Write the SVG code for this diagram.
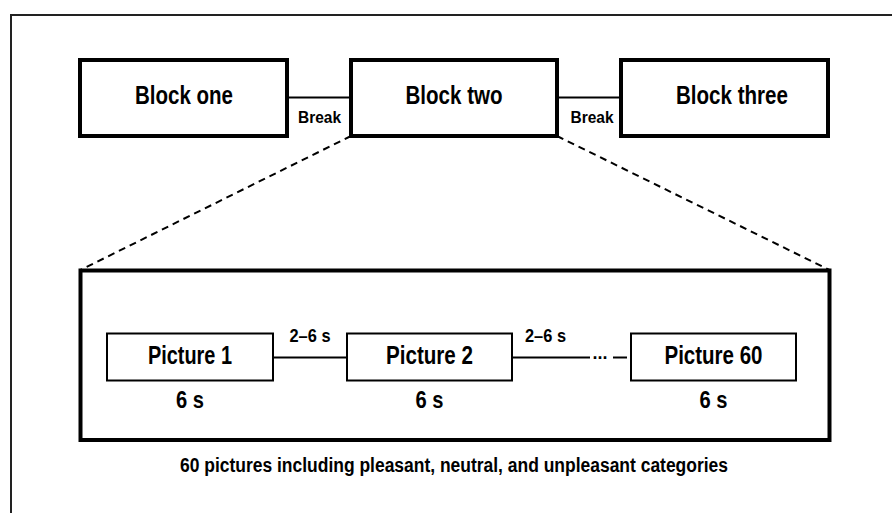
<svg xmlns="http://www.w3.org/2000/svg" width="892" height="513" viewBox="0 0 892 513">
  <style>
    text { font-family: "Liberation Sans Narrow", "Liberation Sans", Arial, sans-serif; font-weight: bold; fill: #000; text-anchor: middle; }
    .block { fill: #fff; stroke: #000; stroke-width: 4; }
    .frame { fill: none; stroke: #000; stroke-width: 4; }
    .pic { fill: #fff; stroke: #000; stroke-width: 2; }
    .link { stroke: #000; stroke-width: 2; fill: none; }
    .zoom { stroke: #000; stroke-width: 2; fill: none; stroke-dasharray: 7 5; }
    .t-block { font-size: 25px; }
    .t-break { font-size: 17px; }
    .t-pic { font-size: 25px; }
    .t-gap { font-size: 18px; }
    .t-dur { font-size: 24px; }
    .t-note { font-size: 20px; }
  </style>

  <rect width="892" height="513" fill="#fff"/>

  <!-- outer frame (open on the right and bottom) -->
  <path d="M11,513 V15 H892" fill="none" stroke="#222" stroke-width="2"/>

  <!-- expanded view of one block -->
  <g id="block-detail">
    <rect class="frame" x="80.5" y="270.5" width="749" height="169.5"/>
    <text class="t-note" x="454" y="472" textLength="548" lengthAdjust="spacingAndGlyphs">60 pictures including pleasant, neutral, and unpleasant categories</text>
  </g>

  <!-- connectors -->
  <g id="connectors">
    <line class="link" x1="287" y1="97.5" x2="351" y2="97.5"/>
    <line class="link" x1="557" y1="97.5" x2="621" y2="97.5"/>
    <line class="zoom" x1="351" y1="136" x2="80.5" y2="270"/>
    <line class="zoom" x1="557" y1="136" x2="829.5" y2="270"/>
    <line class="link" x1="273" y1="357.5" x2="347" y2="357.5"/>
    <line class="link" x1="512" y1="357.5" x2="590" y2="357.5"/>
    <line class="link" x1="613" y1="357.5" x2="627" y2="357.5"/>
    <text class="t-gap" x="600" y="359" textLength="15" lengthAdjust="spacingAndGlyphs">...</text>
    <text class="t-break" x="319.5" y="122.5" textLength="43" lengthAdjust="spacingAndGlyphs">Break</text>
    <text class="t-break" x="592" y="122.5" textLength="43" lengthAdjust="spacingAndGlyphs">Break</text>
    <text class="t-gap" x="310" y="342" textLength="41" lengthAdjust="spacingAndGlyphs">2–6 s</text>
    <text class="t-gap" x="545.5" y="342" textLength="41" lengthAdjust="spacingAndGlyphs">2–6 s</text>
  </g>

  <!-- blocks -->
  <g id="block-one">
    <rect class="block" x="80" y="60" width="207" height="76"/>
    <text class="t-block" x="184" y="103.5" textLength="98" lengthAdjust="spacingAndGlyphs">Block one</text>
  </g>
  <g id="block-two">
    <rect class="block" x="351" y="60" width="206" height="76"/>
    <text class="t-block" x="454" y="103.5" textLength="97" lengthAdjust="spacingAndGlyphs">Block two</text>
  </g>
  <g id="block-three">
    <rect class="block" x="621" y="60" width="207" height="76"/>
    <text class="t-block" x="732" y="103.5" textLength="112" lengthAdjust="spacingAndGlyphs">Block three</text>
  </g>

  <g id="picture-1">
    <rect class="pic" x="107" y="333.5" width="166" height="47"/>
    <text class="t-pic" x="190" y="364" textLength="84" lengthAdjust="spacingAndGlyphs">Picture 1</text>
    <text class="t-dur" x="190" y="408" textLength="28" lengthAdjust="spacingAndGlyphs">6 s</text>
  </g>
  <g id="picture-2">
    <rect class="pic" x="347" y="333.5" width="165" height="47"/>
    <text class="t-pic" x="429.5" y="364" textLength="87" lengthAdjust="spacingAndGlyphs">Picture 2</text>
    <text class="t-dur" x="429.5" y="408" textLength="28" lengthAdjust="spacingAndGlyphs">6 s</text>
  </g>
  <g id="picture-60">
    <rect class="pic" x="631" y="333.5" width="165" height="47"/>
    <text class="t-pic" x="713.5" y="364" textLength="98" lengthAdjust="spacingAndGlyphs">Picture 60</text>
    <text class="t-dur" x="713.5" y="408" textLength="28" lengthAdjust="spacingAndGlyphs">6 s</text>
  </g>
</svg>
